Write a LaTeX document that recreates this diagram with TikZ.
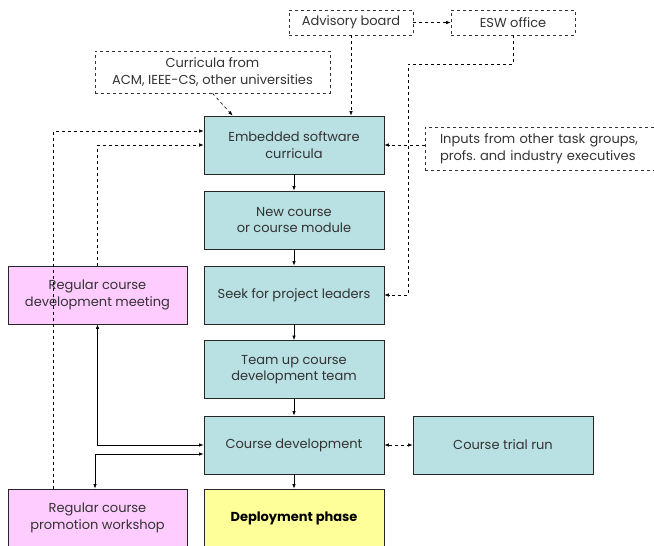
\documentclass[tikz,border=0pt]{standalone}
\usepackage{fontspec}
\setmainfont{Poppins}
\usetikzlibrary{arrows.meta}
\definecolor{stepcyan}{RGB}{185,224,226}
\definecolor{meetpink}{RGB}{255,204,255}
\definecolor{deployyellow}{RGB}{255,255,153}
\begin{document}
\begin{tikzpicture} [
                x=1pt, y=-1pt,
                font=\fontsize{13}{16.5}\selectfont,
                box/.style={draw=black!85,line width=0.8pt,minimum width=180pt,minimum height=58pt,inner sep=1pt,align=center,text=black!80},
                stage/.style={box,fill=stepcyan},
                meeting/.style={box,fill=meetpink,minimum width=179pt},
                deploy/.style={box,fill=deployyellow,font=\fontsize{13}{16.5}\selectfont\bfseries,text=black},
                source/.style={draw=black!80,dashed,line width=0.6pt,align=center,inner sep=1pt,text=black!80},
                flow/.style = {draw,line width=0.7pt,-{Latex[length=4.5pt,width=3.5pt]}},
                both flow/.style = {draw,line width=0.7pt,{Latex[length=4.5pt,width=3.5pt]}-{Latex[length=4.5pt,width=3.5pt]}},
                hint/.style = {flow,dashed,line width=0.6pt},
                both hint/.style = {both flow,dashed,line width=0.6pt},
            ]
            \useasboundingbox (0,0) rectangle (654,546);
            % First we draw the main stages
            \foreach \pos/\name/\label in {
                    {(294,145)/emb/Embedded software\\curricula},
                    {(294,220)/newc/New course\\or course module},
                    {(294,295)/seek/Seek for project leaders},
                    {(294,369.5)/team/Team up course\\development team},
                    {(294,445)/dev/Course development},
                    {(503,445)/trial/Course trial run}}
                \node[stage] (\name) at \pos {\label};
            \node[deploy] (dep) at (294,518) {Deployment phase};
            \node[meeting] (meet) at (97.5,295) {Regular course\\development meeting};
            \node[meeting] (promo) at (97.5,518) {Regular course\\promotion workshop};
            % Outside sources
            \node[source,minimum width=124pt,minimum height=25pt] (adv) at (351,22.5) {Advisory board};
            \node[source,minimum width=124pt,minimum height=25pt] (esw) at (513,22.5) {ESW office};
            \node[source,minimum width=235pt,minimum height=42pt] (curr) at (212.5,72) {Curricula from\\ACM, IEEE-CS, other universities};
            \node[source,minimum width=240pt,minimum height=43pt,inner xsep=14pt,text width=210pt,align=left] (inp) at (545,148.5) {Inputs from other task groups,\\profs.\ and industry executives};
            \coordinate (turn) at (408,64);
            % Connect stages
            \foreach \source/ \dest in {
                    emb/newc,
                    newc/seek,
                    seek/team,
                    team/dev,
                    dev/dep}
                \path[flow] (\source) -- (\dest);
            \path[both hint] (dev) -- (trial);
            \path[hint] (adv) -- (esw);
            \path[hint] (adv.south) -- (adv.south |- emb.north);
            \path[hint] (curr.south) -- ([xshift=29pt]emb.north west);
            \path[hint] (inp.west |- emb.east) -- (emb.east);
            \path[hint] (esw.south) |- (turn) |- (seek.east);
            \path[hint] (meet.north) |- (emb.west);
            \path[hint] ([xshift=46pt]promo.north west) |- ([yshift=14pt]emb.west);
            \path[both flow] (meet.south) |- (dev.west);
            \path[both flow] ([yshift=-9pt]dev.west) -| ([xshift=-2.5pt]promo.north);
        \end{tikzpicture}
\end{document}
